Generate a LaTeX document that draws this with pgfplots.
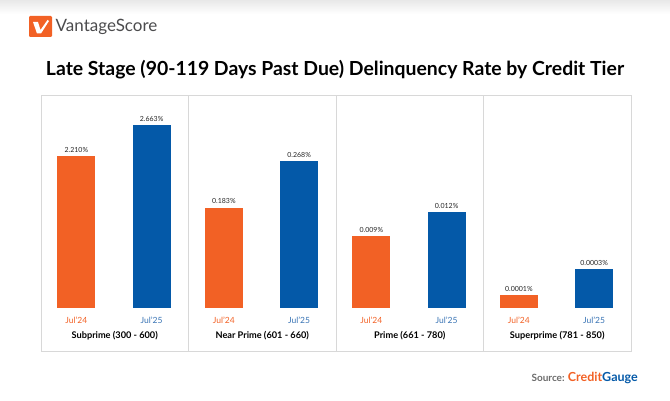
\documentclass[border=0pt]{standalone}
\usepackage{pgfplots}
\pgfplotsset{compat=1.18}
\usepackage{fontspec}
\setmainfont{Lato}
\definecolor{vsorange}{HTML}{F26125}
\definecolor{vsblue}{HTML}{0459A8}
\definecolor{vsbluetext}{HTML}{3873B4}
\definecolor{vsgray}{HTML}{4B4B4D}
\definecolor{panelline}{HTML}{D8D8D8}

% one panel per credit tier, each on its own scale
\pgfplotsset{
  tierpanel/.style={
    scale only axis, width=147.5pt, height=256pt, anchor=south west,
    xmin=-0.47, xmax=1.49,
    axis line style={panelline, line width=0.8pt},
    xtick={0,1}, ytick=\empty,
    major tick length=0pt,
    xticklabels={\textcolor{vsorange}{Jul'24}, \textcolor{vsbluetext}{Jul'25}},
    xticklabel style={font=\fontsize{8.5}{10}\selectfont, anchor=center, yshift=31pt},
    nodes near coords, point meta=explicit symbolic,
    every node near coord/.append style={font=\fontsize{7}{8}\selectfont, color=black!85, inner sep=3.5pt},
    clip=false,
  },
  tierbar/.style={ybar, bar width=38pt, bar shift=0pt, draw=none, fill=#1},
}
\tikzset{tiername/.style={font=\fontsize{9.2}{11}\selectfont\bfseries, yshift=15pt}}

\begin{document}
\begin{tikzpicture}
\path (0,0) rectangle (670pt,400pt);
\shade[top color=black!9, bottom color=white] (0pt,386pt) rectangle (670pt,400pt);

% logo
\fill[vsorange, rounded corners=1.2pt] (29pt,363pt) rectangle (52pt,384pt);
\fill[white] (33pt,378pt) -- (38pt,378pt) -- (40.5pt,370pt) -- (47.5pt,380pt) -- (49pt,379pt) -- (41pt,366.5pt) -- (37pt,366.5pt) -- cycle;
\node[anchor=west, inner sep=0pt, text=vsgray] at (55.5pt,373.5pt) {\fontsize{17}{19}\selectfont VantageScore};

% title
\node[anchor=center, inner sep=0pt] at (335pt,330pt) {\fontsize{19.4}{22}\selectfont\bfseries Late Stage (90-119 Days Past Due) Delinquency Rate by Credit Tier};

% Subprime
\begin{axis}[tierpanel, at={(41pt,49pt)}, ymin=-0.6257, ymax=3.0996]
\addplot[tierbar=vsorange] coordinates {(0,2.210) [2.210\%]};
\addplot[tierbar=vsblue] coordinates {(1,2.663) [2.663\%]};
\node[tiername] at (rel axis cs:0.5,0) {Subprime (300 - 600)};
\end{axis}

% Near Prime
\begin{axis}[tierpanel, at={(188.5pt,49pt)}, ymin=-0.0784, ymax=0.3883]
\addplot[tierbar=vsorange] coordinates {(0,0.183) [0.183\%]};
\addplot[tierbar=vsblue] coordinates {(1,0.268) [0.268\%]};
\node[tiername] at (rel axis cs:0.5,0) {Near Prime (601 - 660)};
\end{axis}

% Prime
\begin{axis}[tierpanel, at={(336pt,49pt)}, ymin=-0.00538, ymax=0.02663]
\addplot[tierbar=vsorange] coordinates {(0,0.009) [0.009\%]};
\addplot[tierbar=vsblue] coordinates {(1,0.012) [0.012\%]};
\node[tiername] at (rel axis cs:0.5,0) {Prime (661 - 780)};
\end{axis}

% Superprime
\begin{axis}[tierpanel, at={(483.5pt,49pt)}, ymin=-0.00033, ymax=0.00164]
\addplot[tierbar=vsorange] coordinates {(0,0.0001) [0.0001\%]};
\addplot[tierbar=vsblue] coordinates {(1,0.0003) [0.0003\%]};
\node[tiername] at (rel axis cs:0.5,0) {Superprime (781 - 850)};
\end{axis}

% source line
\node[anchor=east, inner sep=0pt] at (638pt,22pt) {\fontsize{10}{12}\selectfont\bfseries\textcolor{gray!85!black}{Source:} \fontsize{12.5}{14}\selectfont\textcolor{vsorange}{Credit}\textcolor{vsblue}{Gauge}};
\end{tikzpicture}
\end{document}
